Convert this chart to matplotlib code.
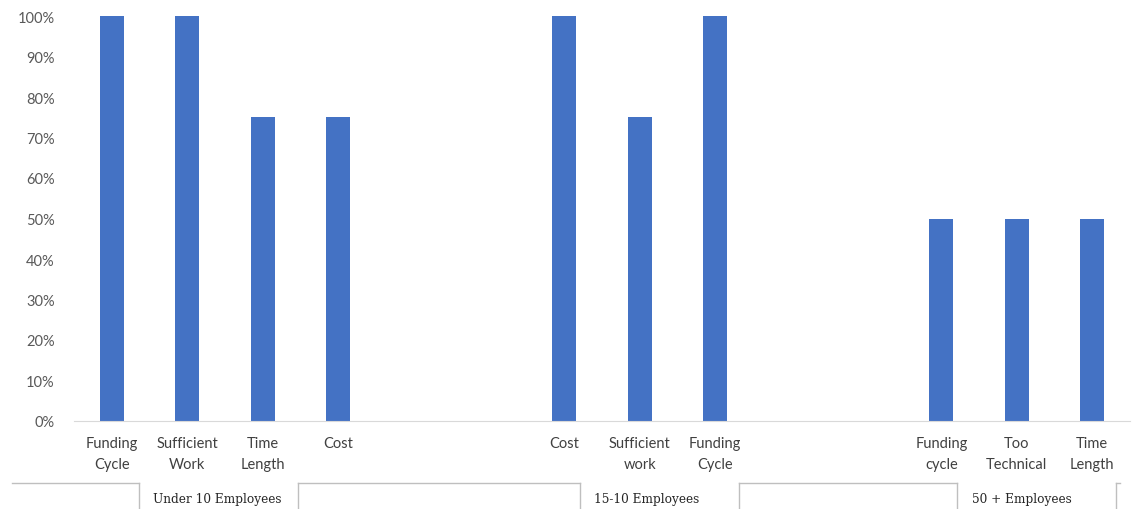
import numpy as np
import matplotlib.pyplot as plt
from matplotlib.transforms import blended_transform_factory
from matplotlib.ticker import PercentFormatter

# survey shares per company size
groups = ["Under 10 Employees", "15-10 Employees", "50 + Employees"]
cats_small = ["Funding\nCycle", "Sufficient\nWork", "Time\nLength", "Cost"]
vals_small = [1.0, 1.0, 0.75, 0.75]
cats_mid = ["Cost", "Sufficient\nwork", "Funding\nCycle"]
vals_mid = [1.0, 0.75, 1.0]
cats_large = ["Funding\ncycle", "Too\nTechnical", "Time\nLength"]
vals_large = [0.5, 0.5, 0.5]

# two empty category slots between the groups
labels = cats_small + ["", ""] + cats_mid + ["", ""] + cats_large
values = vals_small + [np.nan, np.nan] + vals_mid + [np.nan, np.nan] + vals_large
x = np.arange(len(labels))

W, H = 1134, 510
fig = plt.figure(figsize=(W / 100, H / 100), dpi=100)
ax = fig.add_axes([74 / W, 88 / H, (1130 - 74) / W, (422 - 17) / H])

ax.bar(x, values, width=0.32, color="#4472C4", zorder=2)

ax.set_xlim(-0.5, len(labels) - 0.5)
ax.set_ylim(0, 1)
ax.set_yticks(np.arange(0, 1.01, 0.1))
ax.yaxis.set_major_formatter(PercentFormatter(1.0, decimals=0))
ax.set_xticks(x)
ax.set_xticklabels(labels, fontfamily="Lato", fontsize=10.5, color="#404040",
                   linespacing=1.6)

for s in ["top", "right", "left"]:
    ax.spines[s].set_visible(False)
ax.spines["bottom"].set_color("#D9D9D9")
ax.tick_params(axis="x", length=0, pad=11)
ax.tick_params(axis="y", length=0, pad=14, labelsize=10.5, labelcolor="#595959")
for t in ax.get_yticklabels():
    t.set_fontfamily("Lato")

# group boxes under the category labels
tr = blended_transform_factory(ax.transData, fig.transFigure)
line_y = 26 / H
segments = [(-1.32, 0.36), (2.47, 6.21), (8.31, 11.21), (13.31, 13.37)]
for a, b in segments:
    ax.plot([a, b], [line_y, line_y], color="#BFBFBF", lw=1, transform=tr, clip_on=False)
edges = [0.36, 2.47, 6.21, 8.31, 11.21, 13.31]
for e in edges:
    ax.plot([e, e], [line_y, 0], color="#BFBFBF", lw=1, transform=tr, clip_on=False)

gap_starts = [0.36, 6.21, 11.21]
for g, gs in zip(groups, gap_starts):
    ax.text(gs + 0.19, 10 / H, g, transform=tr, ha="left", va="center",
            fontfamily="DejaVu Serif", fontsize=8.7, color="#262626")

fig.savefig("out.png", dpi=100)
